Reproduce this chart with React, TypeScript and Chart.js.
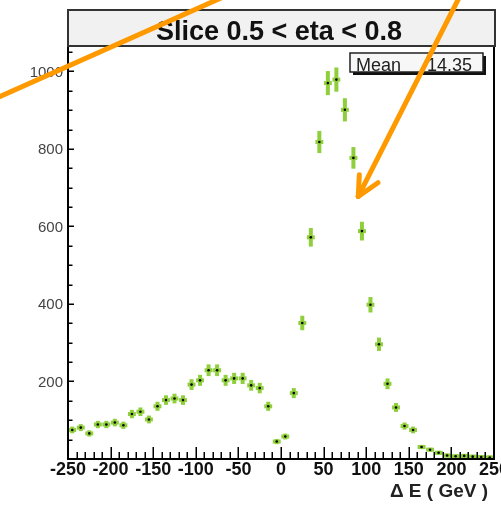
import React, { useEffect, useRef } from "react";
import { Chart, registerables } from "chart.js";

Chart.register(...registerables);

// ---- data ----
const binCenters = [
  -245, -235, -225, -215, -205, -195, -185, -175, -165, -155,
  -145, -135, -125, -115, -105, -95, -85, -75, -65, -55,
  -45, -35, -25, -15, -5, 5, 15, 25, 35, 45,
  55, 65, 75, 85, 95, 105, 115, 125, 135, 145,
  155, 165, 175, 185, 195, 205, 215, 225, 235, 245,
];
const counts = [
  75, 81, 66, 89, 89, 94, 87, 116, 122, 102,
  136, 152, 156, 152, 192, 203, 229, 229, 203, 208,
  208, 190, 183, 136, 45, 58, 170, 351, 572, 818,
  970, 979, 901, 777, 588, 398, 296, 194, 133, 85,
  75, 31, 24, 16, 9, 7, 8, 6, 5, 4,
];
const errors = [
  8.7, 9, 8.1, 9.4, 9.4, 9.7, 9.3, 10.8, 11, 10.1,
  11.7, 12.3, 12.5, 12.3, 13.9, 14.2, 15.1, 15.1, 14.2, 14.4,
  14.4, 13.8, 13.5, 11.7, 6.7, 7.6, 13, 18.7, 23.9, 28.6,
  31.1, 31.3, 30, 27.9, 24.2, 19.9, 17.2, 13.9, 11.5, 9.2,
  8.7, 5.6, 4.9, 4, 3, 2.6, 2.8, 2.4, 2.2, 2,
];
const binWidth = 10;
const xTickLabels = ["-250", "-200", "-150", "-100", "-50", "0", "50", "100", "150", "200", "250"];
const yTickLabels = ["200", "400", "600", "800", "1000"];
const titleText = "Slice 0.5 < eta < 0.8";
const meanLabel = "Mean";
const meanValue = "14.35";
const xAxisTitle = "\u0394 E ( GeV )";

// overlay arrows (in data units)
const arrow1 = [
  [-345, 920.6],
  [-60, 1199.8],
];
const arrow2 = [
  [208.9, 1190],
  [90.7, 677.4],
];
const arrow2Wings = [
  [113.8, 712.8],
  [91.9, 733.4],
];

const X_MIN = -250;
const X_MAX = 250;
const Y_MIN = 0;
const Y_MAX = 1156;

const GREEN = "#8fcf3c";
const ORANGE = "#ff9900";
const FONT = "'Liberation Sans', Arial, Helvetica, sans-serif";

const rootPlugin = {
  id: "rootStyle",
  beforeDraw(chart: any) {
    const { ctx, width, height } = chart;
    ctx.save();
    ctx.fillStyle = "#ffffff";
    ctx.fillRect(0, 0, width, height);
    ctx.restore();
  },
  beforeDatasetsDraw(chart: any) {
    const { ctx } = chart;
    const xs = chart.scales.x;
    const ys = chart.scales.y;
    ctx.save();
    ctx.strokeStyle = GREEN;
    ctx.lineWidth = 4;
    ctx.lineCap = "butt";
    for (let i = 0; i < binCenters.length; i++) {
      const c = binCenters[i];
      const v = counts[i];
      const e = errors[i];
      const px = xs.getPixelForValue(c);
      const py = ys.getPixelForValue(v);
      const x0 = xs.getPixelForValue(c - binWidth / 2) + 0.3;
      const x1 = xs.getPixelForValue(c + binWidth / 2) - 0.3;
      ctx.beginPath();
      ctx.moveTo(x0, py);
      ctx.lineTo(x1, py);
      ctx.stroke();
      ctx.beginPath();
      ctx.moveTo(px, Math.min(ys.getPixelForValue(v + e), py - 2));
      ctx.lineTo(px, Math.max(ys.getPixelForValue(v - e), py + 2));
      ctx.stroke();
    }
    ctx.restore();
  },
  afterDraw(chart: any) {
    const { ctx, chartArea } = chart;
    const xs = chart.scales.x;
    const ys = chart.scales.y;
    const { left, right, top, bottom } = chartArea;
    ctx.save();

    // ticks
    ctx.strokeStyle = "#000";
    ctx.lineWidth = 1.5;
    for (let v = X_MIN + 10; v < X_MAX; v += 10) {
      const px = Math.round(xs.getPixelForValue(v)) + 0.25;
      const len = v % 50 === 0 ? 12 : 7;
      ctx.beginPath();
      ctx.moveTo(px, bottom);
      ctx.lineTo(px, bottom - len);
      ctx.stroke();
    }
    for (let v = 50; v < Y_MAX; v += 50) {
      const py = Math.round(ys.getPixelForValue(v)) + 0.25;
      const len = v % 200 === 0 ? 6 : 4.5;
      ctx.beginPath();
      ctx.moveTo(left, py);
      ctx.lineTo(left + len, py);
      ctx.stroke();
    }

    // frame
    ctx.lineWidth = 2;
    ctx.strokeStyle = "#000";
    ctx.beginPath();
    ctx.moveTo(left, top);
    ctx.lineTo(left, bottom);
    ctx.lineTo(right, bottom);
    ctx.lineTo(right, top);
    ctx.stroke();

    // x tick labels
    ctx.fillStyle = "#111";
    ctx.font = `bold 18px ${FONT}`;
    ctx.textAlign = "center";
    ctx.textBaseline = "alphabetic";
    for (const lab of xTickLabels) {
      const px = xs.getPixelForValue(parseFloat(lab));
      ctx.fillText(lab, px, bottom + 16);
    }

    // y tick labels
    ctx.fillStyle = "#444";
    ctx.font = `15px ${FONT}`;
    ctx.textAlign = "right";
    ctx.textBaseline = "middle";
    for (const lab of yTickLabels) {
      const py = ys.getPixelForValue(parseFloat(lab));
      ctx.fillText(lab, left - 5, py + 1);
    }

    // x axis title
    ctx.fillStyle = "#222";
    ctx.font = `bold 19px ${FONT}`;
    ctx.textAlign = "right";
    ctx.textBaseline = "alphabetic";
    ctx.fillText(xAxisTitle, right - 6, bottom + 38);

    // title box
    const tbTop = top - 1;
    const tbBottom = 46;
    ctx.fillStyle = "#f1f1f1";
    ctx.fillRect(left, tbTop, right - left + 1, tbBottom - tbTop);
    ctx.strokeStyle = "#333";
    ctx.lineWidth = 2;
    ctx.strokeRect(left, tbTop, right - left + 1, tbBottom - tbTop);
    ctx.fillStyle = "#111";
    ctx.font = `bold 27px ${FONT}`;
    ctx.textAlign = "center";
    ctx.textBaseline = "alphabetic";
    ctx.fillText(titleText, (left + right) / 2 - 2, tbBottom - 6.5);

    // mean box
    const mbL = 350;
    const mbT = 53;
    const mbW = 133;
    const mbH = 19;
    ctx.fillStyle = "#111";
    ctx.fillRect(mbL + 3, mbT + 3, mbW, mbH);
    ctx.fillStyle = "#f7f7f7";
    ctx.fillRect(mbL, mbT, mbW, mbH);
    ctx.strokeStyle = "#222";
    ctx.lineWidth = 1.5;
    ctx.strokeRect(mbL, mbT, mbW, mbH);
    ctx.fillStyle = "#222";
    ctx.font = `18px ${FONT}`;
    ctx.textAlign = "left";
    ctx.fillText(meanLabel, mbL + 6, mbT + mbH - 1.5);
    ctx.textAlign = "right";
    ctx.fillText(meanValue, mbL + mbW - 11, mbT + mbH - 1.5);

    // overlay arrows
    const P = (p: number[]) => [xs.getPixelForValue(p[0]), ys.getPixelForValue(p[1])];
    ctx.strokeStyle = ORANGE;
    ctx.lineWidth = 5;
    ctx.lineCap = "round";
    ctx.lineJoin = "round";
    const a = P(arrow1[0]);
    const b = P(arrow1[1]);
    ctx.beginPath();
    ctx.moveTo(a[0], a[1]);
    ctx.lineTo(b[0], b[1]);
    ctx.stroke();
    const c = P(arrow2[0]);
    const d = P(arrow2[1]);
    ctx.beginPath();
    ctx.moveTo(c[0], c[1]);
    ctx.lineTo(d[0], d[1]);
    ctx.stroke();
    for (const w of arrow2Wings) {
      const wp = P(w);
      ctx.beginPath();
      ctx.moveTo(d[0], d[1]);
      ctx.lineTo(wp[0], wp[1]);
      ctx.stroke();
    }

    ctx.restore();
  },
};

export default function App() {
  const ref = useRef<HTMLCanvasElement | null>(null);
  useEffect(() => {
    document.body.style.margin = "0";
    if (!ref.current) return;
    const chart = new Chart(ref.current, {
      type: "scatter",
      data: {
        datasets: [
          {
            data: binCenters.map((c, i) => ({ x: c, y: counts[i] })),
            pointRadius: 1.3,
            pointBackgroundColor: "#000",
            pointBorderWidth: 0,
            showLine: false,
          },
        ],
      },
      options: {
        animation: false,
        responsive: false,
        devicePixelRatio: 1,
        layout: { padding: { left: 68, right: 7, top: 11, bottom: 46 } },
        scales: {
          x: { type: "linear", min: X_MIN, max: X_MAX, display: false },
          y: { type: "linear", min: Y_MIN, max: Y_MAX, display: false },
        },
        plugins: { legend: { display: false }, tooltip: { enabled: false } },
      },
      plugins: [rootPlugin],
    });
    return () => chart.destroy();
  }, []);
  return (
    <canvas ref={ref} width={501} height={505} style={{ display: "block", width: 501, height: 505 }} />
  );
}
